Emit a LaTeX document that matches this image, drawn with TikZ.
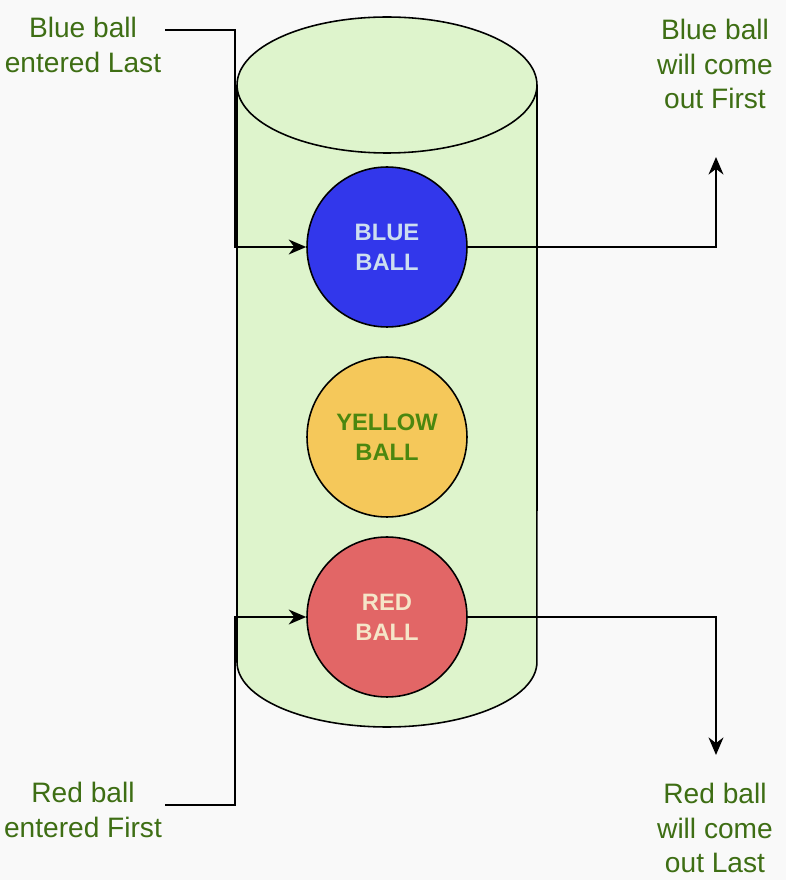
\documentclass[tikz,border=0pt]{standalone}
\usepackage{fontspec}
\setmainfont{Liberation Sans}
\usetikzlibrary{arrows.meta}
\definecolor{bgc}{RGB}{249,249,249}
\definecolor{cylc}{RGB}{222,244,204}
\definecolor{bluec}{RGB}{50,55,235}
\definecolor{yelc}{RGB}{245,200,90}
\definecolor{redc}{RGB}{226,102,102}
\definecolor{txtg}{RGB}{62,110,20}
\definecolor{ballg}{RGB}{75,135,15}
\definecolor{ballb}{RGB}{205,222,240}
\definecolor{ballr}{RGB}{245,230,200}
\tikzset{
  lbl/.style={align=center,text=txtg,font=\fontsize{16}{19.8}\selectfont,inner sep=0pt},
  ball/.style={circle,draw=black,line width=0.9pt,minimum size=3.2cm,inner sep=0pt,align=center,font=\fontsize{13.5}{17}\selectfont\bfseries},
  conn/.style={line width=1.1pt,draw=black},
  arr/.style={conn,-{Stealth[length=10pt,width=8.5pt]}}
}
\begin{document}
\begin{tikzpicture}[x=0.02cm,y=0.02cm]
\fill[bgc] (0,0) rectangle (786,880);
\useasboundingbox (0,0) rectangle (786,880);
% cylinder
\fill[cylc] (237,795) -- (237,218) arc[start angle=180,end angle=360,x radius=3cm,y radius=1.3cm] -- (537,795) arc[start angle=0,end angle=180,x radius=3cm,y radius=1.36cm] -- cycle;
\draw[line width=0.9pt] (237,795) -- (237,218) arc[start angle=180,end angle=360,x radius=3cm,y radius=1.3cm] -- (537,795);
\draw[line width=0.9pt] (387,795) ellipse[x radius=3cm,y radius=1.36cm];
% balls
\node[ball,fill=bluec,text=ballb] (bb) at (387,633) {BLUE\\BALL};
\node[ball,fill=yelc,text=ballg] (yb) at (387,443) {YELLOW\\BALL};
\node[ball,fill=redc,text=ballr] (rb) at (387,263) {RED\\BALL};
% labels
\node[lbl] (tl) at (83,835) {Blue ball\\entered Last};
\node[lbl] (tr) at (715,816) {Blue ball\\will come\\out First};
\node[lbl] (bl) at (83,70) {Red ball\\entered First};
\node[lbl] (br) at (715,52) {Red ball\\will come\\out Last};
% connector points
\coordinate (tlp) at (165,850);
\coordinate (blp) at (165,75);
\coordinate (trp) at (716,723);
\coordinate (brp) at (716,125);
% connectors
\draw[arr] (tlp) -- (235,850) -- (235,633) -- (bb.west);
\draw[arr] (bb.east) -- (trp |- bb.east) -- (trp);
\draw[arr] (blp) -- (235,75) -- (235,263) -- (rb.west);
\draw[arr] (rb.east) -- (brp |- rb.east) -- (brp);
\end{tikzpicture}
\end{document}
